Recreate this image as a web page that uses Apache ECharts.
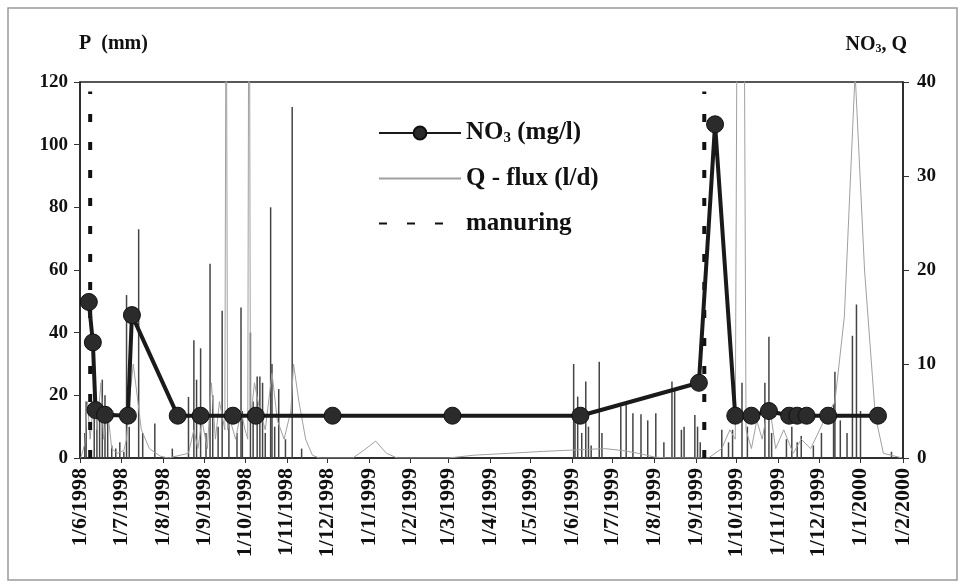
<!DOCTYPE html>
<html>
<head>
<meta charset="utf-8">
<script src="https://cdn.jsdelivr.net/npm/echarts@6/dist/echarts.min.js"></script>
<style>
html,body{margin:0;padding:0;background:#fff;}
#chart{width:966px;height:586px;}
</style>
</head>
<body>
<div id="chart"></div>
<script>
// Precipitation P (mm) - left axis
var pDates = ['1998-06-04','1998-06-05','1998-06-11','1998-06-13','1998-06-15','1998-06-17','1998-06-19','1998-06-21','1998-06-24','1998-06-27','1998-06-30','1998-07-03','1998-07-05','1998-07-07','1998-07-14','1998-07-17','1998-07-26','1998-08-08','1998-08-20','1998-08-24','1998-08-26','1998-08-29','1998-09-02','1998-09-05','1998-09-07','1998-09-11','1998-09-14','1998-09-19','1998-09-25','1998-09-28','1998-09-29','1998-10-05','1998-10-07','1998-10-10','1998-10-12','1998-10-14','1998-10-16','1998-10-20','1998-10-21','1998-10-23','1998-10-26','1998-10-31','1998-11-05','1998-11-12',
'1999-06-02','1999-06-03','1999-06-05','1999-06-08','1999-06-11','1999-06-13','1999-06-15','1999-06-21','1999-06-23','1999-07-07','1999-07-11','1999-07-16','1999-07-22','1999-07-27','1999-08-02','1999-08-08','1999-08-14','1999-08-16','1999-08-21','1999-08-23','1999-08-31','1999-09-02','1999-09-04',
'1999-09-20','1999-09-25','1999-09-28','1999-10-05','1999-10-09','1999-10-22','1999-10-25','1999-10-27','1999-11-07','1999-11-11','1999-11-15','1999-11-18','1999-11-27','1999-12-03','1999-12-12','1999-12-13','1999-12-17','1999-12-22','1999-12-26','1999-12-29','2000-01-01','2000-01-24'];
var pValues = [8,18,20,17,12,25,20,14,4,3,5,2,52,10,73,8,11,3,19.5,37.6,25,35,8,62,20,10,47,12,8,48,15,40,18,26,26,24,8,80,30,10,22,6,112,3,
30,12,19.6,8,24.4,10,4,30.7,8,16.4,17.5,14.3,14,12,14.3,5,24.4,21.7,9,10,13.7,10,5,
9,5,9,24,10,24,38.7,8,6,10,5,7,4,8,17,27.5,12,8,39,49,15,2];

// Q - flux (l/d) - right axis
var qDates = ['1998-06-01','1998-06-04','1998-06-06','1998-06-08','1998-06-11','1998-06-13','1998-06-16','1998-06-18','1998-06-21','1998-06-24','1998-06-28','1998-07-03','1998-07-05','1998-07-07','1998-07-10','1998-07-16','1998-07-22','1998-07-30','1998-08-05','1998-08-20','1998-08-24','1998-08-27','1998-08-30','1998-09-03','1998-09-06','1998-09-09','1998-09-12','1998-09-16','1998-09-17','1998-09-18','1998-09-20','1998-09-24','1998-09-28','1998-10-01','1998-10-03','1998-10-04','1998-10-05','1998-10-08','1998-10-12','1998-10-16','1998-10-21','1998-10-25','1998-10-30','1998-11-04','1998-11-06','1998-11-10','1998-11-15','1998-11-20','1998-11-25','1998-12-20','1998-12-28','1999-01-06','1999-01-14','1999-01-22','1999-03-01','1999-03-20','1999-04-15','1999-05-10','1999-05-25','1999-06-10','1999-06-25','1999-07-08','1999-07-20','1999-08-01','1999-08-10','1999-09-10','1999-09-20','1999-09-26','1999-09-30','1999-10-04','1999-10-08','1999-10-12','1999-10-16','1999-10-20','1999-10-25','1999-10-30','1999-11-05','1999-11-12','1999-11-18','1999-11-25','1999-12-05','1999-12-13','1999-12-20','1999-12-28','2000-01-04','2000-01-12','2000-01-18','2000-02-01'];
var qValues = [0,1.5,6,2,7,3,8,2,5,1,0.5,0.8,2,6,10,3,1,0.2,0,0.5,3,1,4,1,8,2,6,3,60,3,4,2,5,3,2,70,4,8,5,3,9,4,2,5,10,6,2,0.3,0,0,0.8,1.8,0.5,0,0,0.3,0.5,0.7,0.8,0.9,1.0,0.8,0.5,0.1,0,0,1,3,2,140,3,1,4,2,6,1,3,0.5,2,1,4,6,15,41,20,4.5,0.5,0];

// NO3 (mg/l) - right axis
var no3Dates = ['1998-06-07','1998-06-10','1998-06-12','1998-06-19','1998-07-06','1998-07-09','1998-08-12','1998-08-29','1998-09-22','1998-10-09','1998-12-05','1999-03-04','1999-06-07','1999-09-03','1999-09-15','1999-09-30','1999-10-12','1999-10-25','1999-11-09','1999-11-15','1999-11-22','1999-12-08','2000-01-14'];
var no3Values = [16.6,12.3,5.1,4.6,4.5,15.2,4.5,4.5,4.5,4.5,4.5,4.5,4.5,8.0,35.5,4.5,4.5,5.0,4.5,4.5,4.5,4.5,4.5];

// Manuring dates (vertical dashed lines, height on left axis)
var manuringDates = ['1998-06-08','1999-09-07'];
var manuringTop = 117;

// x tick positions (month starts) and their labels
var xTickDates = ['1998-06-01','1998-07-01','1998-08-01','1998-09-01','1998-10-01','1998-11-01','1998-12-01','1999-01-01','1999-02-01','1999-03-01','1999-04-01','1999-05-01','1999-06-01','1999-07-01','1999-08-01','1999-09-01','1999-10-01','1999-11-01','1999-12-01','2000-01-01','2000-02-01'];
var xTickLabels = ['1/6/1998','1/7/1998','1/8/1998','1/9/1998','1/10/1998','1/11/1998','1/12/1998','1/1/1999','1/2/1999','1/3/1999','1/4/1999','1/5/1999','1/6/1999','1/7/1999','1/8/1999','1/9/1999','1/10/1999','1/11/1999','1/12/1999','1/1/2000','1/2/2000'];

var yLeftTicks = [0,20,40,60,80,100,120];
var yRightTicks = [0,10,20,30,40];

var FONT = 'Liberation Serif, Times New Roman, serif';

// local-time timestamp from 'YYYY-MM-DD'
function ts(s){ var p = s.split('-'); return new Date(+p[0], +p[1]-1, +p[2]).getTime(); }
function pairs(ds, vs){ return ds.map(function(d,i){ return [ts(d), vs[i]]; }); }
var xTickTs = xTickDates.map(ts);

var series = [
  {
    name: 'P', type: 'bar', yAxisIndex: 0, barWidth: 1.5, barGap: '-100%',
    data: pairs(pDates, pValues), itemStyle: {color: '#444'}, z: 2, silent: true
  },
  {
    name: 'Q - flux (l/d)', type: 'line', yAxisIndex: 1, symbol: 'none',
    data: pairs(qDates, qValues), lineStyle: {color: '#a0a0a0', width: 1}, itemStyle:{color:'#a0a0a0'}, z: 3, clip: true
  },
  {
    name: 'NO3 (mg/l)', type: 'line', yAxisIndex: 1, symbol: 'circle', symbolSize: 17,
    data: pairs(no3Dates, no3Values), lineStyle: {color: '#1a1a1a', width: 4},
    itemStyle: {color: '#2b2b2b', borderColor: '#111', borderWidth: 1}, z: 6
  }
];
manuringDates.forEach(function(d){
  series.push({
    name: 'manuring', type: 'line', yAxisIndex: 0, symbol: 'none',
    data: [[ts(d), 0], [ts(d), manuringTop]],
    lineStyle: {color: '#111', width: 4, type: [8, 20]}, itemStyle:{color:'#111'}, z: 5
  });
});

// label = the listed month-start label nearest to the tick value
function fmtDate(v){
  var best = 0, bd = Infinity;
  for (var i = 0; i < xTickTs.length; i++) {
    var dd = Math.abs(xTickTs[i] - v);
    if (dd < bd) { bd = dd; best = i; }
  }
  return xTickLabels[best];
}

var chart = echarts.init(document.getElementById('chart'), null, {renderer: 'canvas'});
chart.setOption({
  animation: false,
  backgroundColor: '#fff',
  graphic: [{
    type: 'rect', shape: {x: 8, y: 8, width: 949, height: 572},
    style: {fill: 'none', stroke: '#9a9a9a', lineWidth: 1.5}, silent: true, z: -10
  }],
  title: [
    {text: 'P  (mm)', left: 74, top: 29, textStyle: {fontFamily: FONT, fontWeight: 'bold', fontSize: 20, color: '#111'}},
    {text: '{a|NO}{s|3}{a|, Q}', right: 54, top: 29, textStyle: {
      rich: {
        a: {fontFamily: FONT, fontWeight: 'bold', fontSize: 20, color: '#111'},
        s: {fontFamily: FONT, fontWeight: 'bold', fontSize: 12, color: '#111', padding: [9,0,0,0]}
      }}}
  ],
  legend: {
    data: [
      {name: 'NO3 (mg/l)'},
      {name: 'Q - flux (l/d)', itemStyle: {opacity: 0}},
      {name: 'manuring', itemStyle: {opacity: 0}}
    ],
    orient: 'vertical', left: 373, top: 115,
    itemWidth: 82, itemHeight: 16, itemGap: 20,
    selectedMode: false,
    formatter: function(name){
      if (name === 'NO3 (mg/l)') return '{b|NO}{s|3}{b| (mg/l)}';
      return '{b|' + name + '}';
    },
    textStyle: {
      rich: {
        b: {fontFamily: FONT, fontWeight: 'bold', fontSize: 25, color: '#111', lineHeight: 26},
        s: {fontFamily: FONT, fontWeight: 'bold', fontSize: 15, color: '#111', padding: [11,0,0,0], lineHeight: 26}
      }
    }
  },
  grid: {left: 80, right: 63, top: 82, bottom: 128, show: true, borderColor: '#222', borderWidth: 1.5, backgroundColor: 'transparent'},
  xAxis: {
    type: 'time', min: xTickTs[0], max: xTickTs[xTickTs.length - 1], splitNumber: 20,
    axisLine: {lineStyle: {color: '#222', width: 1.5}},
    axisTick: {show: true, length: 5, lineStyle: {color: '#333'}},
    splitLine: {show: false},
    axisLabel: {
      rotate: 90, margin: 10, formatter: fmtDate, hideOverlap: false,
      showMinLabel: true, showMaxLabel: true,
      fontFamily: FONT, fontWeight: 'bold', fontSize: 22, color: '#111'
    }
  },
  yAxis: [
    {
      type: 'value', min: 0, max: 120, interval: 20, position: 'left',
      axisLine: {show: true, lineStyle: {color: '#222', width: 1.5}},
      axisTick: {show: true, length: 6, lineStyle: {color: '#333'}},
      splitLine: {show: false},
      axisLabel: {margin: 12, fontFamily: FONT, fontWeight: 'bold', fontSize: 19, color: '#111',
        formatter: function(v){ return yLeftTicks.indexOf(v) >= 0 ? String(v) : ''; }}
    },
    {
      type: 'value', min: 0, max: 40, interval: 10, position: 'right',
      axisLine: {show: true, lineStyle: {color: '#222', width: 1.5}},
      axisTick: {show: true, length: 6, lineStyle: {color: '#333'}},
      splitLine: {show: false},
      axisLabel: {margin: 14, fontFamily: FONT, fontWeight: 'bold', fontSize: 19, color: '#111',
        formatter: function(v){ return yRightTicks.indexOf(v) >= 0 ? String(v) : ''; }}
    }
  ],
  series: series
});
</script>
</body>
</html>
